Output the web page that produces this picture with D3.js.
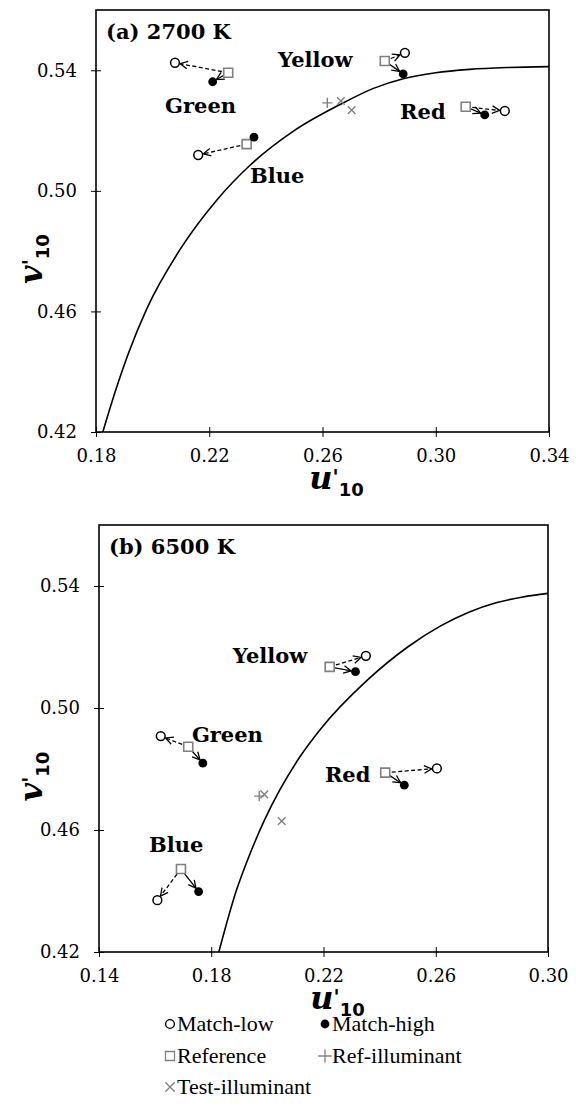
<!DOCTYPE html>
<html>
<head>
<meta charset="utf-8">
<script src="https://cdn.jsdelivr.net/npm/d3@7"></script>
<style>
  body { margin: 0; background: #fff; }
</style>
</head>
<body>
<div id="chart"></div>
<script>
const colorNames = ["Green", "Blue", "Yellow", "Red"]
const vTicks = [0.42, 0.46, 0.50, 0.54]

// (a) 2700 K
const uTicksA = [0.18, 0.22, 0.26, 0.30, 0.34]
const refA_u  = [0.2267, 0.2332, 0.2820, 0.3106]
const refA_v  = [0.5392, 0.5155, 0.5431, 0.5279]
const lowA_u  = [0.2079, 0.2161, 0.2891, 0.3244]
const lowA_v  = [0.5425, 0.5119, 0.5458, 0.5265]
const highA_u = [0.2212, 0.2358, 0.2885, 0.3173]
const highA_v = [0.5362, 0.5178, 0.5388, 0.5252]
const refIllumA  = [[0.2617, 0.5292]]
const testIllumA = [[0.2665, 0.5298], [0.2703, 0.5268]]
const labelA_u = [0.2044, 0.2344, 0.2443, 0.2874]
const labelA_v = [0.5258, 0.5026, 0.5411, 0.5238]
const locusA_u = [0.1824, 0.1870, 0.1915, 0.1980, 0.2100, 0.2227, 0.2344, 0.2500, 0.2669, 0.2780, 0.2885, 0.3000, 0.3120, 0.3250, 0.3400]
const locusA_v = [0.4200, 0.4340, 0.4462, 0.4610, 0.4810, 0.4970, 0.5085, 0.5200, 0.5290, 0.5340, 0.5372, 0.5392, 0.5403, 0.5409, 0.5412]

// (b) 6500 K
const uTicksB = [0.14, 0.18, 0.22, 0.26, 0.30]
const refB_u  = [0.1718, 0.1692, 0.2222, 0.2420]
const refB_v  = [0.4873, 0.4472, 0.5135, 0.4788]
const lowB_u  = [0.1620, 0.1608, 0.2351, 0.2604]
const lowB_v  = [0.4908, 0.4370, 0.5171, 0.4802]
const highB_u = [0.1770, 0.1755, 0.2314, 0.2488]
const highB_v = [0.4819, 0.4398, 0.5119, 0.4747]
const refIllumB  = [[0.1971, 0.4711]]
const testIllumB = [[0.1989, 0.4717], [0.2051, 0.4629]]
const labelB_u = [0.1731, 0.1578, 0.1877, 0.2205]
const labelB_v = [0.4888, 0.4528, 0.5147, 0.4757]
const locusB_u = [0.1827, 0.1890, 0.1935, 0.1990, 0.2116, 0.2187, 0.2357, 0.2500, 0.2619, 0.2720, 0.2815, 0.2910, 0.3000]
const locusB_v = [0.4200, 0.4403, 0.4515, 0.4633, 0.4840, 0.4928, 0.5092, 0.5200, 0.5270, 0.5315, 0.5345, 0.5364, 0.5376]

const legendLabels = ["Match-low", "Match-high", "Reference", "Ref-illuminant", "Test-illuminant"]

const GREY = "#808080"
const SERIF = "'DejaVu Serif', serif"

const panels = [
  { id: "a", title: "(a) 2700 K", left: 96, top: 10, w: 453, h: 422, uTicks: uTicksA,
    ref_u: refA_u, ref_v: refA_v, low_u: lowA_u, low_v: lowA_v, high_u: highA_u, high_v: highA_v,
    refIllum: refIllumA, testIllum: testIllumA, lab_u: labelA_u, lab_v: labelA_v, loc_u: locusA_u, loc_v: locusA_v },
  { id: "b", title: "(b) 6500 K", left: 99, top: 525, w: 449, h: 427, uTicks: uTicksB,
    ref_u: refB_u, ref_v: refB_v, low_u: lowB_u, low_v: lowB_v, high_u: highB_u, high_v: highB_v,
    refIllum: refIllumB, testIllum: testIllumB, lab_u: labelB_u, lab_v: labelB_v, loc_u: locusB_u, loc_v: locusB_v }
]

const svg = d3.select("#chart").append("svg").attr("width", 576).attr("height", 1108)

const defs = svg.append("defs")
defs.append("marker").attr("id", "arrow")
  .attr("viewBox", "-9 -5 10 10").attr("refX", 0).attr("refY", 0)
  .attr("markerWidth", 10).attr("markerHeight", 10)
  .attr("markerUnits", "userSpaceOnUse").attr("orient", "auto")
  .append("path").attr("d", "M-7.5,-3.8L0,0L-7.5,3.8")
  .attr("fill", "none").attr("stroke", "#000").attr("stroke-width", 1.3)

const R = 4.4
const symCircle = d3.symbol().type(d3.symbolCircle).size(Math.PI * R * R)
const symSquare = d3.symbol().type(d3.symbolSquare).size(81)
const symPlus = d3.symbol().type(d3.symbolPlus).size(36)
const symTimes = d3.symbol().type(d3.symbolTimes).size(40)

function arrowPath(x0, y0, x1, y1, r) {
  const dx = x1 - x0, dy = y1 - y0, len = Math.hypot(dx, dy)
  const ex = x1 - dx / len * r, ey = y1 - dy / len * r
  return `M${x0},${y0}L${ex},${ey}`
}

function drawPanel(p) {
  const x = d3.scaleLinear().domain([p.uTicks[0], p.uTicks[p.uTicks.length - 1]]).range([0, p.w])
  const y = d3.scaleLinear().domain([0.42, 0.56]).range([p.h, 0])
  const g = svg.append("g").attr("transform", `translate(${p.left},${p.top})`)

  defs.append("clipPath").attr("id", "clip-" + p.id)
    .append("rect").attr("width", p.w).attr("height", p.h)

  // axes with cross ticks
  const ya = g.append("g").call(d3.axisLeft(y).tickValues(vTicks).tickFormat(d3.format(".2f")).tickSize(5).tickPadding(14))
  ya.select(".domain").remove()
  ya.selectAll(".tick line").attr("x1", 5).attr("stroke", "#000")
  ya.selectAll("text").style("font-size", "18px").style("font-family", SERIF).attr("fill", "#000")

  const xa = g.append("g").attr("transform", `translate(0,${p.h})`)
    .call(d3.axisBottom(x).tickValues(p.uTicks).tickFormat(d3.format(".2f")).tickSize(5).tickPadding(12))
  xa.select(".domain").remove()
  xa.selectAll(".tick line").attr("y1", -5).attr("stroke", "#000")
  xa.selectAll("text").style("font-size", "18px").style("font-family", SERIF).attr("fill", "#000")

  // Planckian locus
  const line = d3.line().x(d => x(d[0])).y(d => y(d[1])).curve(d3.curveMonotoneX)
  g.append("path").datum(d3.zip(p.loc_u, p.loc_v))
    .attr("clip-path", `url(#clip-${p.id})`)
    .attr("d", line).attr("fill", "none").attr("stroke", "#000").attr("stroke-width", 1.6)

  const idx = d3.range(colorNames.length)

  // arrows: reference -> match-low (dashed), reference -> match-high (solid)
  g.selectAll(".arr-low").data(idx).join("path").attr("class", "arr-low")
    .attr("d", i => arrowPath(x(p.ref_u[i]), y(p.ref_v[i]), x(p.low_u[i]), y(p.low_v[i]), R + 0.8))
    .attr("fill", "none").attr("stroke", "#000").attr("stroke-width", 1.3)
    .attr("stroke-dasharray", "4,2.5").attr("marker-end", "url(#arrow)")
  g.selectAll(".arr-high").data(idx).join("path").attr("class", "arr-high")
    .attr("d", i => arrowPath(x(p.ref_u[i]), y(p.ref_v[i]), x(p.high_u[i]), y(p.high_v[i]), R))
    .attr("fill", "none").attr("stroke", "#000").attr("stroke-width", 1.3)
    .attr("marker-end", "url(#arrow)")

  // markers
  g.selectAll(".ref").data(idx).join("path").attr("class", "ref")
    .attr("transform", i => `translate(${x(p.ref_u[i])},${y(p.ref_v[i])})`)
    .attr("d", symSquare).attr("fill", "#fff").attr("stroke", GREY).attr("stroke-width", 1.6)
  g.selectAll(".low").data(idx).join("path").attr("class", "low")
    .attr("transform", i => `translate(${x(p.low_u[i])},${y(p.low_v[i])})`)
    .attr("d", symCircle).attr("fill", "#fff").attr("stroke", "#000").attr("stroke-width", 1.5)
  g.selectAll(".high").data(idx).join("path").attr("class", "high")
    .attr("transform", i => `translate(${x(p.high_u[i])},${y(p.high_v[i])})`)
    .attr("d", symCircle).attr("fill", "#000")
  g.selectAll(".rillum").data(p.refIllum).join("path").attr("class", "rillum")
    .attr("transform", d => `translate(${x(d[0])},${y(d[1])})`)
    .attr("d", symPlus).attr("fill", "none").attr("stroke", GREY).attr("stroke-width", 1.4)
  g.selectAll(".tillum").data(p.testIllum).join("path").attr("class", "tillum")
    .attr("transform", d => `translate(${x(d[0])},${y(d[1])})`)
    .attr("d", symTimes).attr("fill", "none").attr("stroke", GREY).attr("stroke-width", 1.4)

  // colour labels
  g.selectAll(".clabel").data(idx).join("text").attr("class", "clabel")
    .attr("x", i => x(p.lab_u[i])).attr("y", i => y(p.lab_v[i]))
    .style("font-family", SERIF).style("font-size", "21px").style("font-weight", "bold")
    .text(i => colorNames[i])

  g.append("text").attr("x", 10).attr("y", 29)
    .style("font-family", SERIF).style("font-size", "21px").style("font-weight", "bold").text(p.title)

  // frame
  g.append("rect").attr("width", p.w).attr("height", p.h)
    .attr("fill", "none").attr("stroke", "#000").attr("stroke-width", 1.6)

  // axis titles
  const xt = g.append("text").attr("x", p.w / 2 + 14).attr("y", p.h + 57).attr("text-anchor", "middle")
    .style("font-family", SERIF).style("font-weight", "bold")
  xt.append("tspan").style("font-size", "32px").style("font-style", "italic").text("u")
  xt.append("tspan").style("font-size", "20px").attr("dy", -5).text("'")
  xt.append("tspan").style("font-size", "18px").style("font-family", "'DejaVu Sans', sans-serif").attr("dy", 12).text("10")

  const yt = g.append("text").attr("transform", `translate(${-p.left + 42},${p.h / 2 + 38}) rotate(-90)`)
    .attr("text-anchor", "middle").style("font-family", SERIF).style("font-weight", "bold")
  yt.append("tspan").style("font-size", "32px").style("font-style", "italic").text("v")
  yt.append("tspan").style("font-size", "20px").attr("dy", -5).text("'")
  yt.append("tspan").style("font-size", "18px").style("font-family", "'DejaVu Sans', sans-serif").attr("dy", 12).text("10")
}

panels.forEach(drawPanel)

// legend
const legSyms = [
  { sym: symCircle, fill: "#fff", stroke: "#000" },
  { sym: symCircle, fill: "#000", stroke: "none" },
  { sym: symSquare, fill: "#fff", stroke: GREY },
  { sym: d3.symbol().type(d3.symbolPlus).size(60), fill: "none", stroke: GREY },
  { sym: d3.symbol().type(d3.symbolTimes).size(60), fill: "none", stroke: GREY }
]
const legColX = [170, 325]
const legRowY = [1031, 1063, 1094]
const leg = svg.append("g")
const items = leg.selectAll("g").data(legendLabels).join("g")
  .attr("transform", (d, i) => `translate(${legColX[i % 2]},${legRowY[Math.floor(i / 2)]})`)
items.append("path").attr("transform", "translate(0,-7)")
  .attr("d", (d, i) => legSyms[i].sym())
  .attr("fill", (d, i) => legSyms[i].fill).attr("stroke", (d, i) => legSyms[i].stroke).attr("stroke-width", 1.3)
items.append("text").attr("x", 7)
  .style("font-family", "'Liberation Serif', serif").style("font-size", "22px").text(d => d)
</script>
</body>
</html>
